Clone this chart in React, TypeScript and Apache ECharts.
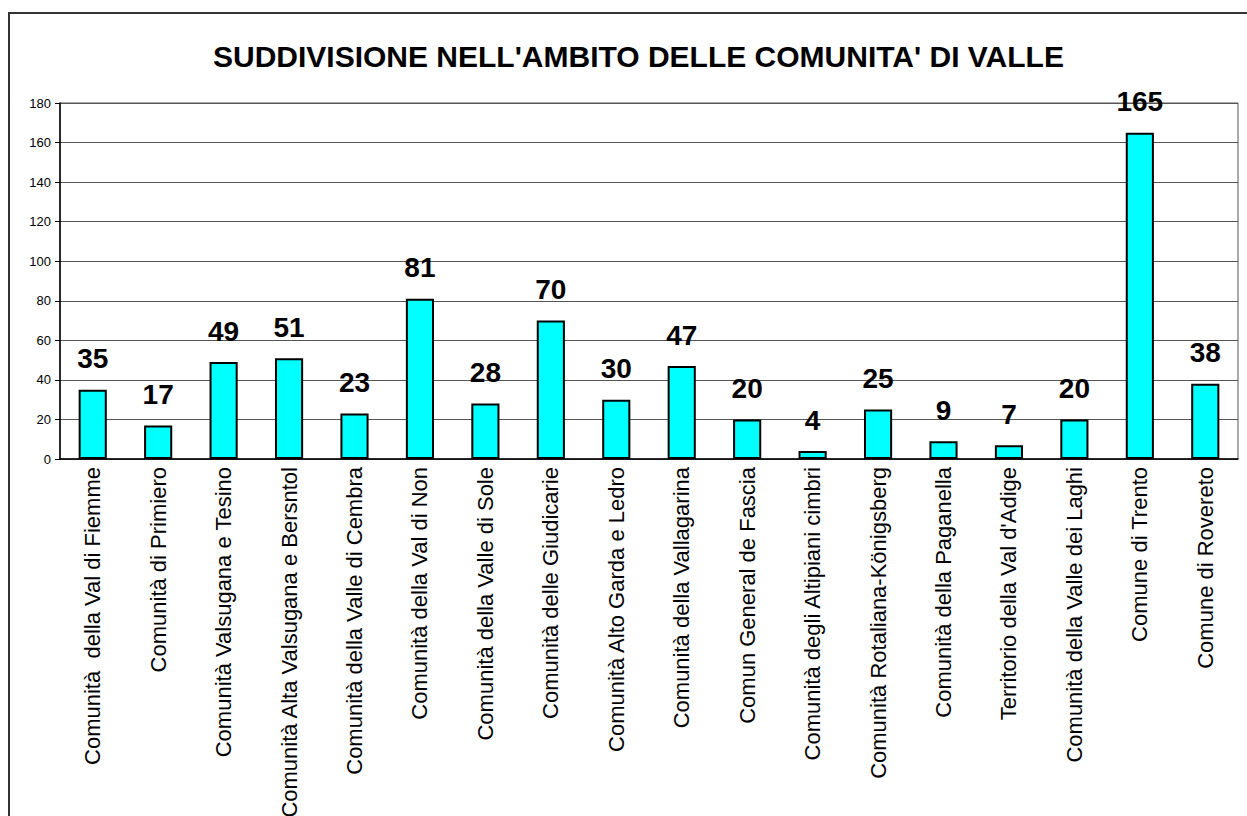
import React, { useEffect, useRef } from "react";
import * as echarts from "echarts";

const categories = [
  "Comunità  della Val di Fiemme",
  "Comunità di Primiero",
  "Comunità Valsugana e Tesino",
  "Comunità Alta Valsugana e Bersntol",
  "Comunità della Valle di Cembra",
  "Comunità della Val di Non",
  "Comunità della Valle di Sole",
  "Comunità delle Giudicarie",
  "Comunità Alto Garda e Ledro",
  "Comunità della Vallagarina",
  "Comun General de Fascia",
  "Comunità degli Altipiani cimbri",
  "Comunità Rotaliana-Königsberg",
  "Comunità della Paganella",
  "Territorio della Val d'Adige",
  "Comunità della Valle dei Laghi",
  "Comune di Trento",
  "Comune di Rovereto",
];

const values = [35, 17, 49, 51, 23, 81, 28, 70, 30, 47, 20, 4, 25, 9, 7, 20, 165, 38];

const titleText = "SUDDIVISIONE NELL'AMBITO DELLE COMUNITA' DI VALLE";

const FONT = 'Arial, "Liberation Sans", sans-serif';

export default function App() {
  const ref = useRef<HTMLDivElement>(null);

  useEffect(() => {
    if (!ref.current) return;
    const chart = echarts.init(ref.current, null, { renderer: "svg" });
    chart.setOption({
      animation: false,
      backgroundColor: "#ffffff",
      title: {
        text: titleText,
        left: 213,
        top: 41,
        padding: 0,
        textStyle: { fontFamily: FONT, fontSize: 30, fontWeight: "bold", color: "#000" },
      },
      graphic: [
        {
          type: "rect",
          shape: { x: 9, y: 13, width: 1400, height: 1000 },
          style: { fill: "none", stroke: "#333", lineWidth: 2 },
          silent: true,
        },
      ],
      grid: {
        left: 60,
        right: 9,
        top: 103,
        bottom: 357,
        containLabel: false,
        outerBoundsMode: "none",
        show: true,
        borderColor: "#555",
        borderWidth: 1,
        backgroundColor: "transparent",
      },
      xAxis: {
        type: "category",
        data: categories,
        axisLine: { lineStyle: { color: "#000", width: 1.5 } },
        axisTick: { inside: true, length: 6, lineStyle: { color: "#000" } },
        axisLabel: {
          rotate: 90,
          interval: 0,
          margin: 8,
          fontFamily: FONT,
          fontSize: 22,
          color: "#000",
        },
      },
      yAxis: {
        type: "value",
        min: 0,
        max: 180,
        interval: 20,
        axisLine: { show: true, lineStyle: { color: "#000", width: 1.5 } },
        axisTick: { show: true, length: 5, lineStyle: { color: "#000" } },
        axisLabel: { fontFamily: FONT, fontSize: 13, color: "#000", margin: 9 },
        splitLine: { lineStyle: { color: "#555", width: 1 } },
      },
      series: [
        {
          type: "bar",
          data: values,
          barWidth: "43%",
          itemStyle: { color: "#00FFFF", borderColor: "#000", borderWidth: 2 },
          label: {
            show: true,
            position: "top",
            distance: 17,
            fontFamily: FONT,
            fontSize: 28,
            fontWeight: "bold",
            color: "#000",
          },
        },
      ],
    });
    return () => chart.dispose();
  }, []);

  return (
    <div
      ref={ref}
      style={{ position: "fixed", left: 0, top: 0, width: 1247, height: 816, background: "#fff" }}
    />
  );
}
